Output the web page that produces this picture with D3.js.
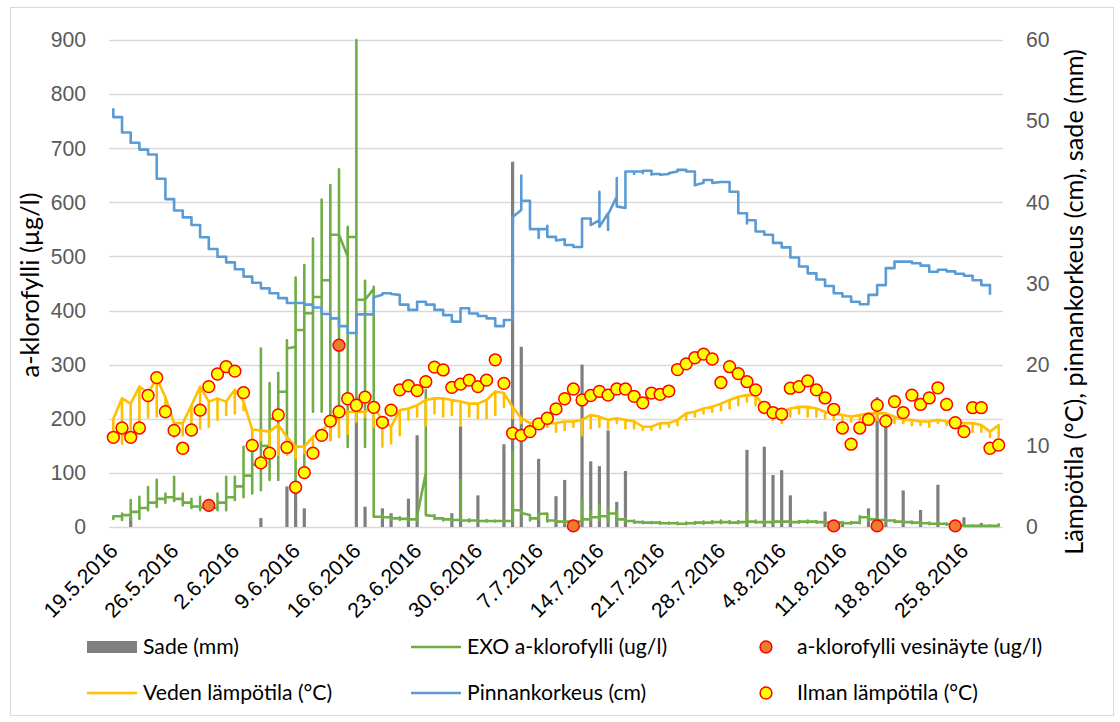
<!DOCTYPE html>
<html>
<head>
<meta charset="utf-8">
<script src="https://cdnjs.cloudflare.com/ajax/libs/d3/7.8.5/d3.min.js"></script>
<style>
  body { margin: 0; background: #fff; }
  svg { font-family: Lato, "Liberation Sans", sans-serif; }
</style>
</head>
<body>
<script>
// first day of the series, one value (or group of values) per day after that
const startLabel = "19.5.2016";

// x-axis tick labels (weekly)
const tickLabels = ["19.5.2016", "26.5.2016", "2.6.2016", "9.6.2016", "16.6.2016", "23.6.2016",
  "30.6.2016", "7.7.2016", "14.7.2016", "21.7.2016", "28.7.2016", "4.8.2016", "11.8.2016",
  "18.8.2016", "25.8.2016"];

// Ilman lämpötila (°C), one per day
const airTemp = [
  11.05, 12.2, 11.05, 12.2, 16.2, 18.4, 14.2, 11.9, 9.7, 11.95,
  14.4, 17.3, 18.85, 19.75, 19.2, 16.55, 10.05, 7.9, 9.1, 13.8,
  9.8, 4.9, 6.7, 9.1, 11.3, 13.05, 14.2, 15.8, 15.0, 16.0,
  14.75, 12.9, 14.4, 16.9, 17.4, 16.8, 17.9, 19.7, 19.35, 17.2,
  17.6, 18.1, 17.3, 18.1, 20.6, 17.7, 11.55, 11.3, 11.75, 12.7,
  13.4, 14.55, 15.8, 17.0, 15.65, 16.2, 16.7, 16.25, 17.0, 17.0,
  16.1, 15.3, 16.5, 16.35, 16.75, 19.4, 20.1, 20.85, 21.3, 20.7,
  17.8, 19.75, 18.9, 17.9, 16.9, 14.75, 14.1, 13.9, 17.1, 17.3,
  18.0, 16.9, 15.9, 14.5, 12.2, 10.2, 12.2, 13.25, 15.0, 13.05,
  15.45, 14.1, 16.25, 15.1, 15.9, 17.15, 15.1, 12.85, 11.75, 14.7,
  14.7, 9.7, 10.1
];

// Veden lämpötila (°C): daily [high, low]
const waterTemp = [
  [13.3, 11.3], [15.85, 10.3], [15.2, 11.5], [17.3, 12.15], [16.5, 13.5],
  [18.3, 13.6], [16.0, 14.0], [12.8, 11.1], [12.8, 11.3], [15.0, 12.35],
  [17.3, 12.15], [15.45, 12.35], [15.85, 13.2], [15.45, 13.8], [16.9, 14.0],
  [15.45, 14.4], [12.0, 10.0], [11.9, 10.7], [11.75, 9.5], [12.6, 8.9],
  [11.1, 8.9], [9.9, 8.5], [9.9, 9.1], [11.1, 9.9], [11.9, 10.7],
  [12.8, 10.7], [13.6, 11.1], [14.2, 11.5], [14.2, 13.0], [14.2, 13.6],
  [14.8, 12.35], [13.2, 9.9], [12.35, 10.3], [14.4, 11.3], [14.6, 13.2],
  [15.0, 13.6], [15.65, 12.55], [15.85, 14.0], [15.85, 13.6], [15.65, 13.8],
  [15.45, 12.55], [15.2, 13.6], [15.2, 13.4], [15.65, 13.4], [16.7, 13.8],
  [16.5, 14.8], [14.8, 13.4], [13.4, 12.8], [12.8, 12.35], [13.0, 12.55],
  [12.8, 12.35], [12.8, 11.75], [13.0, 11.95], [13.0, 12.35], [13.2, 11.3],
  [13.8, 12.15], [13.6, 12.35], [13.2, 12.15], [13.4, 12.8], [13.2, 12.15],
  [13.0, 12.15], [12.35, 11.95], [12.35, 11.95], [12.8, 12.15], [12.8, 12.35],
  [13.2, 12.55], [14.0, 13.2], [14.2, 13.6], [14.6, 14.0], [14.8, 14.2],
  [15.2, 14.4], [15.65, 14.6], [16.05, 15.0], [16.25, 15.45], [16.25, 15.0],
  [14.8, 14.0], [14.6, 13.2], [14.2, 12.8], [14.6, 13.6], [14.8, 14.0],
  [14.8, 13.6], [14.6, 13.6], [14.2, 13.4], [14.0, 13.2], [13.8, 12.8],
  [13.6, 13.0], [13.8, 13.2], [14.0, 13.0], [14.0, 13.2], [14.0, 12.8],
  [13.6, 12.8], [13.2, 12.8], [13.2, 12.55], [13.0, 12.55], [13.0, 12.35],
  [13.2, 12.8], [13.0, 12.55], [13.0, 12.35], [12.8, 12.15], [12.8, 11.75],
  [12.55, 11.75], [11.75, 11.1], [12.55, 11.1]
];

// Pinnankorkeus (cm): readings of each day in order
const waterLevel = [
  [51.6, 50.5], [50.5, 48.6], [48.6, 47.35], [47.35, 46.5], [46.5, 45.9],
  [45.9, 42.9], [42.9, 40.4], [40.4, 39.0], [39.0, 38.15], [38.15, 37.2],
  [37.2, 35.7], [35.7, 34.25], [34.25, 33.3], [33.3, 32.6], [32.6, 31.75],
  [31.75, 30.85], [30.85, 30.1], [30.1, 29.4], [29.4, 28.8], [28.8, 28.2],
  [28.2, 27.6], [27.6, 27.6], [27.6, 27.4], [27.4, 27.05], [27.05, 26.25],
  [26.25, 25.7], [25.7, 24.75], [24.75, 23.9], [23.9, 26.2], [26.2, 26.2],
  [26.2, 28.3], [28.6, 28.8], [28.8, 28.7], [28.6, 27.4], [27.4, 26.75],
  [26.75, 27.75], [27.75, 27.4], [27.4, 26.75], [26.75, 26.1], [26.1, 25.3],
  [25.3, 26.95], [26.95, 26.3], [26.3, 26.0], [26.0, 25.7], [25.7, 24.75],
  [24.75, 25.5], [25.5, 38.2], [39.05, 43.3, 40.2], [40.2, 36.7], [36.7, 35.6, 36.7],
  [36.7, 37.1, 35.75], [35.75, 35.3], [35.45, 34.75], [34.75, 34.5], [34.5, 38.0],
  [38.0, 37.2], [37.8, 41.3, 37.0], [38.65, 36.6, 38.5], [40.7, 43.0, 39.5], [39.3, 43.8],
  [43.8, 43.5, 43.8], [43.8, 43.6, 43.9], [43.9, 43.4, 43.5], [43.5, 43.4], [43.5, 43.6],
  [43.8, 44.0], [44.0, 43.8], [43.8, 42.1], [42.4, 42.75], [42.75, 42.4],
  [42.5, 42.5], [42.5, 41.3], [41.3, 38.65], [38.65, 37.4, 37.8], [37.8, 36.4],
  [36.4, 36.0], [36.0, 35.0], [35.0, 34.45], [34.45, 33.2], [33.2, 32.1],
  [32.1, 31.25], [31.25, 30.5], [30.5, 29.7], [29.7, 28.8], [28.8, 28.4],
  [28.4, 27.75], [27.75, 27.45], [27.45, 28.6], [28.6, 29.8], [29.8, 31.9],
  [31.9, 32.7], [32.7, 32.7], [32.7, 32.5], [32.5, 32.2], [32.2, 31.45],
  [31.45, 31.7], [31.7, 31.5], [31.5, 31.2], [31.2, 30.95], [30.95, 30.4],
  [30.4, 29.8], [29.8, 28.6]
];

// EXO a-klorofylli (ug/l): readings of each day in order
const exoChl = [
  [18, 15, 20], [20, 13, 25, 22], [22, 13, 50, 28], [28, 15, 56, 35], [35, 31, 74, 45],
  [45, 37, 87, 52], [52, 45, 62, 55], [55, 48, 93, 52], [52, 40, 62, 45], [45, 35, 52, 38],
  [38, 31, 56, 36], [36, 31, 50, 35], [35, 31, 62, 45], [45, 31, 93, 55], [55, 50, 93, 75],
  [75, 55, 148, 95], [95, 62, 148, 115], [115, 68, 330, 150], [150, 87, 266, 200], [200, 87, 285, 250],
  [250, 142, 345, 330], [333, 75, 461, 364], [364, 102, 484, 395], [395, 213, 533, 425], [425, 213, 605, 456],
  [456, 161, 632, 540], [540, 213, 661, 540], [500, 148, 555, 536], [536, 192, 900, 420], [420, 148, 455, 420],
  [440, 444, 19], [19, 16, 22, 18], [18, 14, 19, 16], [16, 13, 18, 15], [15, 12, 17, 14],
  [14, 12, 16, 20], [100, 253, 22], [20, 15, 22, 16], [16, 12, 16, 14], [14, 11, 16, 13],
  [13, 87, 12], [12, 10, 14, 12], [12, 10, 13, 11], [11, 10, 13, 11], [11, 10, 12, 11],
  [11, 10, 12, 11], [11, 139, 31], [31, 25, 31, 26], [22, 12, 18, 16], [16, 14, 22, 24],
  [25, 10, 25, 12], [12, 8, 13, 10], [10, 7, 12, 10], [10, 6, 12, 10], [10, 50, 14],
  [14, 12, 30, 18], [18, 12, 40, 20], [20, 10, 35, 25], [25, 12, 30, 14], [14, 10, 16, 11],
  [11, 8, 12, 9], [9, 7, 10, 8], [8, 7, 9, 8], [8, 6, 9, 7], [7, 6, 8, 7],
  [7, 5, 8, 6], [6, 5, 8, 7], [7, 6, 9, 8], [8, 6, 10, 8], [8, 7, 11, 9],
  [9, 7, 12, 9], [9, 7, 11, 8], [8, 7, 11, 9], [9, 7, 25, 10], [10, 8, 12, 9],
  [9, 7, 11, 9], [9, 7, 12, 10], [10, 8, 12, 10], [10, 8, 12, 9], [9, 8, 11, 10],
  [10, 8, 12, 10], [10, 8, 11, 9], [9, 7, 10, 8], [8, 6, 10, 8], [8, 6, 9, 7],
  [7, 6, 9, 8], [8, 7, 20, 18], [18, 12, 22, 14], [14, 10, 18, 13], [13, 10, 14, 12],
  [12, 9, 13, 10], [10, 8, 11, 9], [9, 7, 10, 8], [8, 6, 9, 7], [7, 5, 8, 6],
  [6, 5, 8, 6], [6, 4, 7, 5], [5, 3, 6, 3], [3, 2, 3, 2], [2, 2, 3, 2],
  [2, 2, 3, 2], [2, 2, 3, 2], [2, 2, 5, 4]
];

// Sade (mm)
const rain = [
  ["21.5.2016", 1.2], ["5.6.2016", 1.1], ["8.6.2016", 5.0], ["9.6.2016", 4.5], ["10.6.2016", 2.3],
  ["16.6.2016", 16], ["17.6.2016", 2.5], ["19.6.2016", 2.3], ["20.6.2016", 1.7], ["22.6.2016", 3.5],
  ["23.6.2016", 11.3], ["27.6.2016", 1.7], ["28.6.2016", 12.4], ["30.6.2016", 3.9], ["3.7.2016", 10.2],
  ["4.7.2016", 45], ["5.7.2016", 22.2], ["7.7.2016", 8.4], ["9.7.2016", 3.8], ["10.7.2016", 5.8],
  ["12.7.2016", 20.0], ["13.7.2016", 8.1], ["14.7.2016", 7.5], ["15.7.2016", 11.9], ["16.7.2016", 3.1],
  ["17.7.2016", 6.9], ["31.7.2016", 9.5], ["2.8.2016", 9.9], ["3.8.2016", 6.4], ["4.8.2016", 7.0],
  ["5.8.2016", 3.9], ["9.8.2016", 1.9], ["11.8.2016", 0.7], ["14.8.2016", 2.3], ["15.8.2016", 16.0],
  ["16.8.2016", 14.0], ["18.8.2016", 4.5], ["20.8.2016", 2.1], ["22.8.2016", 5.2], ["25.8.2016", 1.2],
  ["27.8.2016", 0.5]
];

// a-klorofylli vesinäyte (ug/l)
const samples = [
  ["30.5.2016", 40], ["14.6.2016", 336], ["11.7.2016", 2], ["10.8.2016", 2],
  ["15.8.2016", 2], ["24.8.2016", 2]
];

const leftTicks = [0, 100, 200, 300, 400, 500, 600, 700, 800, 900];
const rightTicks = [0, 10, 20, 30, 40, 50, 60];

const W = 1120, H = 722;
const plot = { left: 109, right: 1003, top: 40, bottom: 527 };
const fontSize = 21.2;

const parse = d3.utcParse("%d.%m.%Y");
const fmt = d3.utcFormat("%-d.%-m.%Y");
const start = parse(startLabel);
const dayAt = i => d3.utcDay.offset(start, i);

const svg = d3.select("body").append("svg").attr("width", W).attr("height", H);

svg.append("rect").attr("x", 10.5).attr("y", 7.5).attr("width", 1103).attr("height", 708)
  .attr("fill", "#fff").attr("stroke", "#d9d9d9").attr("stroke-width", 1);

const x = d3.scaleTime()
  .domain([d3.utcHour.offset(start, -12), d3.utcHour.offset(dayAt(airTemp.length - 1), 12)])
  .range([plot.left, plot.right]);
const yL = d3.scaleLinear().domain([0, 900]).range([plot.bottom, plot.top]);
const yR = d3.scaleLinear().domain([0, 60]).range([plot.bottom, plot.top]);

// gridlines
svg.append("g").selectAll("line").data(leftTicks).join("line")
  .attr("x1", plot.left).attr("x2", plot.right)
  .attr("y1", d => Math.round(yL(d)) + 0.5).attr("y2", d => Math.round(yL(d)) + 0.5)
  .attr("stroke", "#d9d9d9").attr("stroke-width", 1.3);

// axes
const gL = svg.append("g").attr("transform", `translate(${plot.left},0)`)
  .call(d3.axisLeft(yL).tickValues(leftTicks).tickSize(0).tickPadding(23));
const gR = svg.append("g").attr("transform", `translate(${plot.right},0)`)
  .call(d3.axisRight(yR).tickValues(rightTicks).tickSize(0).tickPadding(23));
[gL, gR].forEach(g => {
  g.select(".domain").remove();
  g.selectAll("text").attr("font-size", fontSize).attr("fill", "#595959").attr("font-family", null);
});

const gX = svg.append("g").attr("transform", `translate(0,${plot.bottom})`)
  .call(d3.axisBottom(x).tickValues(tickLabels.map(parse)).tickSize(0).tickFormat(fmt));
gX.select(".domain").remove();
gX.selectAll("text")
  .attr("font-size", fontSize).attr("fill", "#000").attr("font-family", null)
  .attr("text-anchor", "end")
  .attr("y", 0).attr("dy", "0.35em")
  .attr("transform", "translate(0,20) rotate(-45)");

// axis titles
svg.append("text").attr("transform", "translate(39,285) rotate(-90)")
  .attr("text-anchor", "middle").attr("font-size", 25.3).attr("fill", "#000")
  .text("a-klorofylli (µg/l)");
svg.append("text").attr("transform", "translate(1083,302) rotate(-90)")
  .attr("text-anchor", "middle").attr("font-size", 25.3).attr("fill", "#000")
  .text("Lämpötila (°C), pinnankorkeus (cm), sade (mm)");

// rain bars
svg.append("g").selectAll("rect").data(rain).join("rect")
  .attr("x", d => x(parse(d[0])) - 1.6).attr("width", 3.2)
  .attr("y", d => yR(d[1])).attr("height", d => yR(0) - yR(d[1]))
  .attr("fill", "#7f7f7f");

// all readings of a day sit at the same x, so the lines draw as steps
const pts = (arr, scale) => arr.flatMap((vals, i) => vals.map(v => [x(dayAt(i)), scale(v)]));
const line = d3.line();

svg.append("path").attr("d", line(pts(exoChl, yL)))
  .attr("fill", "none").attr("stroke", "#70ad47").attr("stroke-width", 2.6).attr("stroke-linejoin", "round");

// water temperature: the day's high, down to the low and back
const waterPts = waterTemp.map(d => [d[0], d[1], d[0]]);
svg.append("path").attr("d", line(pts(waterPts, yR)))
  .attr("fill", "none").attr("stroke", "#ffc000").attr("stroke-width", 2.6).attr("stroke-linejoin", "round");

svg.append("path").attr("d", line(pts(waterLevel, yR)))
  .attr("fill", "none").attr("stroke", "#5b9bd5").attr("stroke-width", 2.6).attr("stroke-linejoin", "round");

svg.append("g").selectAll("circle").data(samples).join("circle")
  .attr("cx", d => x(parse(d[0]))).attr("cy", d => yL(d[1])).attr("r", 5.9)
  .attr("fill", "#ed7d31").attr("stroke", "#ff0000").attr("stroke-width", 1.5);

svg.append("g").selectAll("circle").data(airTemp).join("circle")
  .attr("cx", (d, i) => x(dayAt(i))).attr("cy", d => yR(d)).attr("r", 5.9)
  .attr("fill", "#ffff00").attr("stroke", "#ff0000").attr("stroke-width", 1.5);

// legend
const legend = [
  { label: "Sade (mm)", type: "bar", color: "#7f7f7f", x: 87, y: 647 },
  { label: "EXO a-klorofylli (ug/l)", type: "line", color: "#70ad47", x: 411, y: 647 },
  { label: "a-klorofylli vesinäyte (ug/l)", type: "dot", color: "#ed7d31", x: 766, y: 647 },
  { label: "Veden lämpötila (°C)", type: "line", color: "#ffc000", x: 87, y: 693 },
  { label: "Pinnankorkeus (cm)", type: "line", color: "#5b9bd5", x: 411, y: 693 },
  { label: "Ilman lämpötila (°C)", type: "dot", color: "#ffff00", x: 766, y: 693 }
];
const lg = svg.append("g").selectAll("g").data(legend).join("g");
lg.filter(d => d.type === "bar").append("rect")
  .attr("x", d => d.x).attr("y", d => d.y - 6).attr("width", 50).attr("height", 12).attr("fill", d => d.color);
lg.filter(d => d.type === "line").append("line")
  .attr("x1", d => d.x).attr("x2", d => d.x + 50).attr("y1", d => d.y).attr("y2", d => d.y)
  .attr("stroke", d => d.color).attr("stroke-width", 2.6);
lg.filter(d => d.type === "dot").append("circle")
  .attr("cx", d => d.x).attr("cy", d => d.y).attr("r", 5.9)
  .attr("fill", d => d.color).attr("stroke", "#ff0000").attr("stroke-width", 1.5);
lg.append("text")
  .attr("x", d => d.type === "dot" ? d.x + 31 : d.x + 56).attr("y", d => d.y).attr("dy", "0.35em")
  .attr("font-size", fontSize).attr("fill", "#000")
  .text(d => d.label);
</script>
</body>
</html>
